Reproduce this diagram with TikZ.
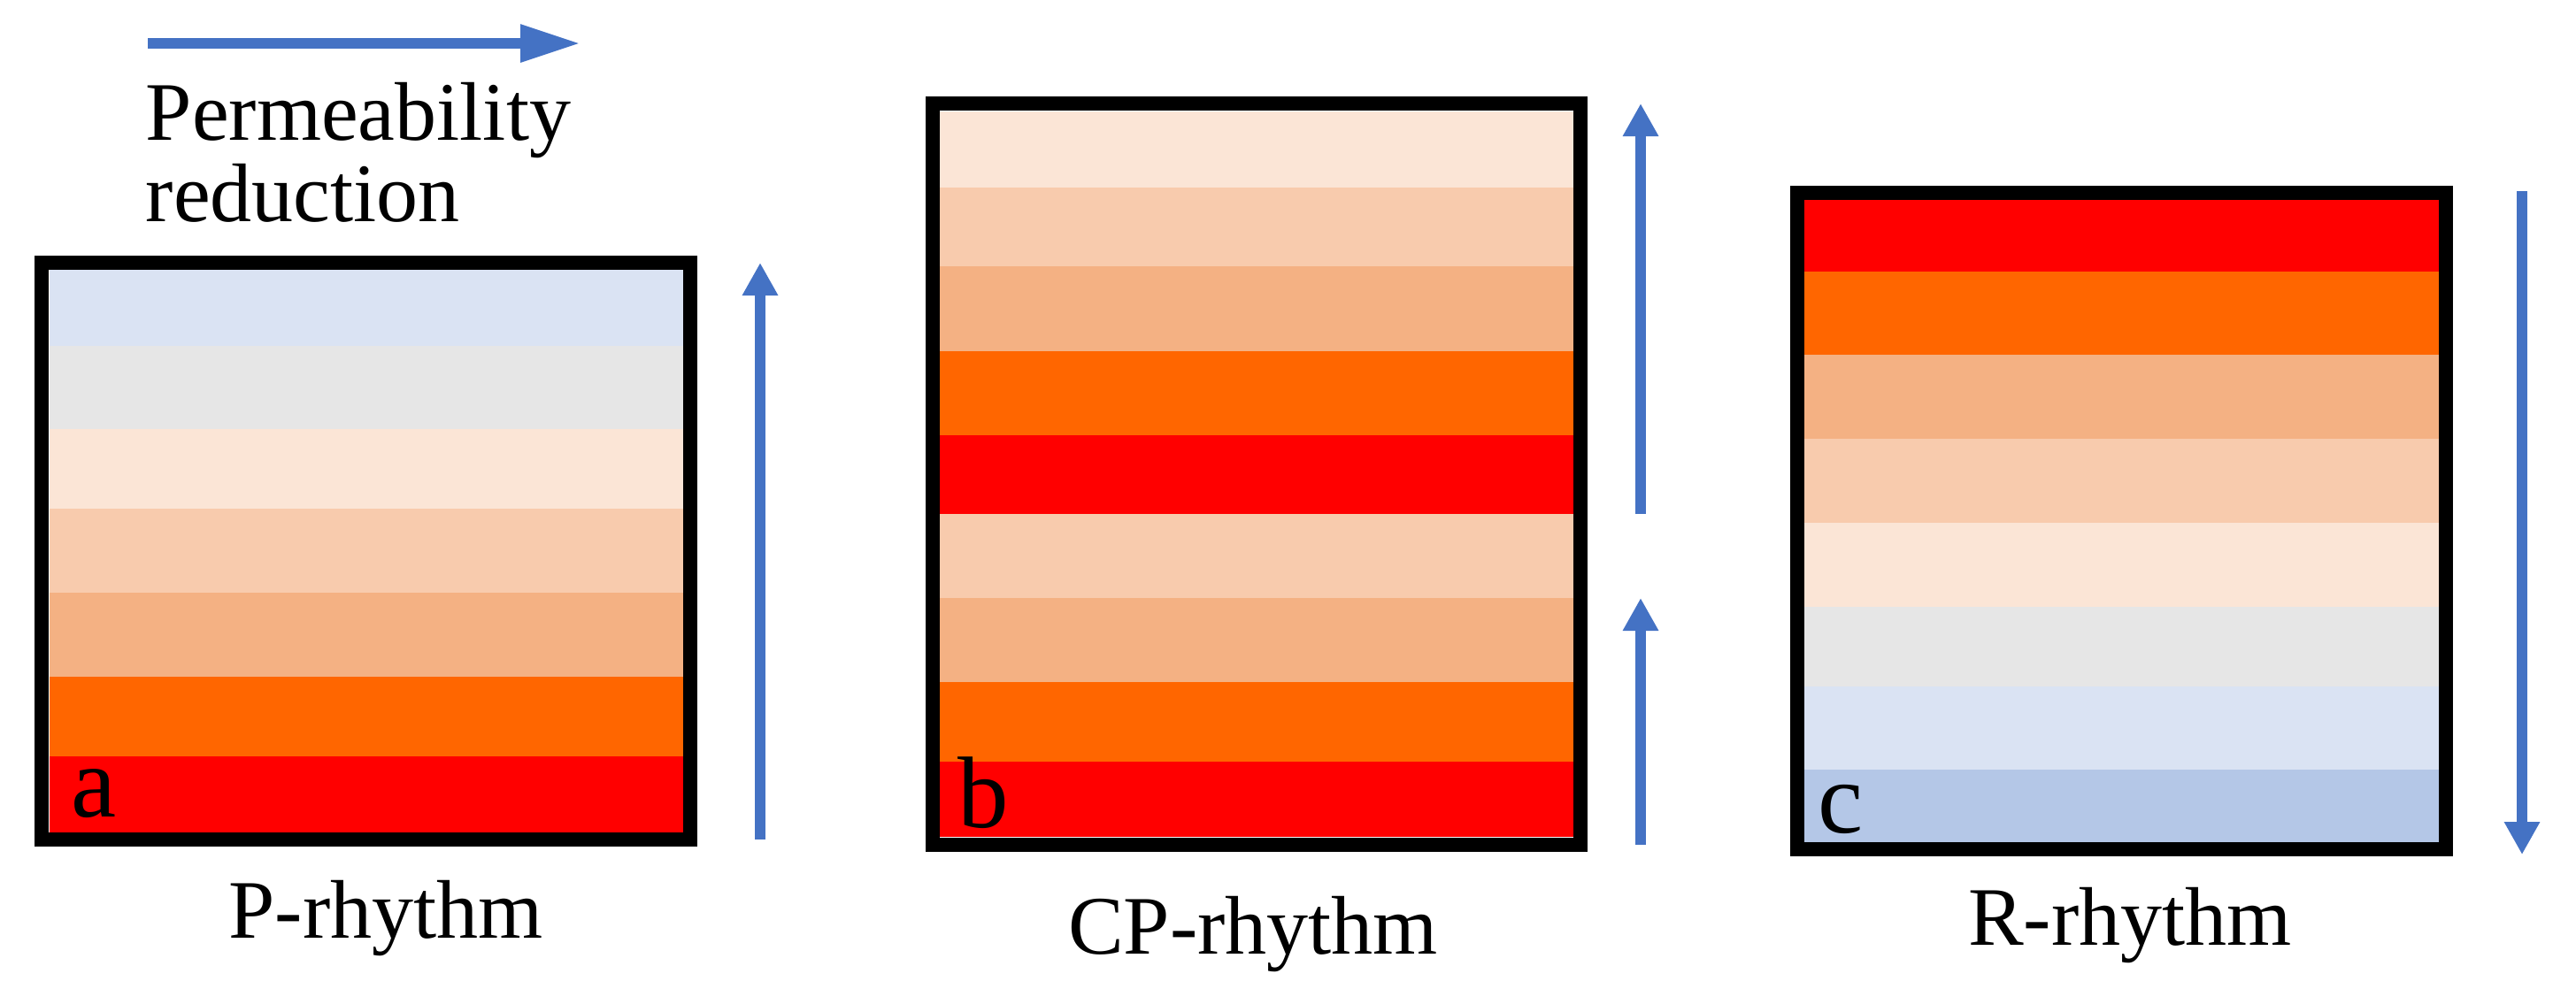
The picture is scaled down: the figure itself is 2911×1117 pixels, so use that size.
\documentclass[tikz,border=0pt]{standalone}
\usepackage{fontspec}
\setmainfont{Liberation Serif}
\usetikzlibrary{arrows.meta}
\definecolor{lblue}{HTML}{DAE3F3}
\definecolor{lgray}{HTML}{E6E6E6}
\definecolor{peachA}{HTML}{FBE5D6}
\definecolor{peachB}{HTML}{F8CBAD}
\definecolor{peachC}{HTML}{F4B183}
\definecolor{orng}{HTML}{FF6600}
\definecolor{rd}{HTML}{FF0000}
\definecolor{mblue}{HTML}{B4C7E7}
\definecolor{arrblue}{HTML}{4472C4}
\tikzset{
  frame/.style={draw=black,line width=4pt,line join=miter},
  bigarrow/.style={draw=arrblue,line width=3pt,-{Triangle[length=17pt,width=10pt]}},
  uparrow/.style={draw=arrblue,line width=2.9pt,-{Triangle[length=9.25pt,width=9.5pt]}},
  caption/.style={inner sep=0pt,font=\fontsize{23.5}{24}\selectfont},
  letter/.style={inner sep=0pt,anchor=base west,font=\fontsize{28.75}{29}\selectfont}
}
\begin{document}
\begin{tikzpicture}[x=0.25pt,y=-0.25pt]
\useasboundingbox (0,0) rectangle (2911,1117);
% top arrow and text
\coordinate (hs) at (167,49);
\coordinate (he) at (656,49);
\draw[bigarrow] (hs) -- (he);
\node[caption,anchor=base west] (perm1) at (164,158) {Permeability};
\node[caption,anchor=base west] (perm2) at (164,250) {reduction};
% box a stripes
\fill[lblue]  (56,304.5) rectangle (772,391);
\fill[lgray]  (56,391) rectangle (772,485);
\fill[peachA] (56,485) rectangle (772,575);
\fill[peachB] (56,575) rectangle (772,670);
\fill[peachC] (56,670) rectangle (772,765);
\fill[orng]   (56,765) rectangle (772,855);
\fill[rd]     (56,855) rectangle (772,941);
\draw[frame] (47,297) rectangle (780,949);
\node[letter] (la) at (80,923) {a};
\coordinate (as) at (859,949);
\coordinate (ae) at (859,297);
\draw[uparrow] (as) -- (ae);
\node[caption,anchor=base] (capa) at (436,1060) {P-rhythm};
% box b stripes
\fill[peachA] (1061,126) rectangle (1778,212);
\fill[peachB] (1061,212) rectangle (1778,301);
\fill[peachC] (1061,301) rectangle (1778,397);
\fill[orng]   (1061,397) rectangle (1778,492);
\fill[rd]     (1061,492) rectangle (1778,581);
\fill[peachB] (1061,581) rectangle (1778,676);
\fill[peachC] (1061,676) rectangle (1778,771);
\fill[orng]   (1061,771) rectangle (1778,861);
\fill[rd]     (1061,861) rectangle (1778,946);
\draw[frame] (1054,117) rectangle (1786,955);
\node[letter] (lb) at (1082,935) {b};
\coordinate (b1s) at (1854,581);
\coordinate (b1e) at (1854,117);
\coordinate (b2s) at (1854,955);
\coordinate (b2e) at (1854,676);
\draw[uparrow] (b1s) -- (b1e);
\draw[uparrow] (b2s) -- (b2e);
\node[caption,anchor=base] (capb) at (1416,1078) {CP-rhythm};
% box c stripes
\fill[rd]     (2039,225.5) rectangle (2756,307);
\fill[orng]   (2039,307) rectangle (2756,401);
\fill[peachC] (2039,401) rectangle (2756,496);
\fill[peachB] (2039,496) rectangle (2756,591);
\fill[peachA] (2039,591) rectangle (2756,686);
\fill[lgray]  (2039,686) rectangle (2756,776);
\fill[lblue]  (2039,776) rectangle (2756,870);
\fill[mblue]  (2039,870) rectangle (2756,952);
\draw[frame] (2031,217.5) rectangle (2764,960);
\node[letter] (lc) at (2054,941) {c};
\coordinate (cs) at (2850,216);
\coordinate (ce) at (2850,966);
\draw[uparrow] (cs) -- (ce);
\node[caption,anchor=base] (capc) at (2407,1068) {R-rhythm};
\end{tikzpicture}
\end{document}
